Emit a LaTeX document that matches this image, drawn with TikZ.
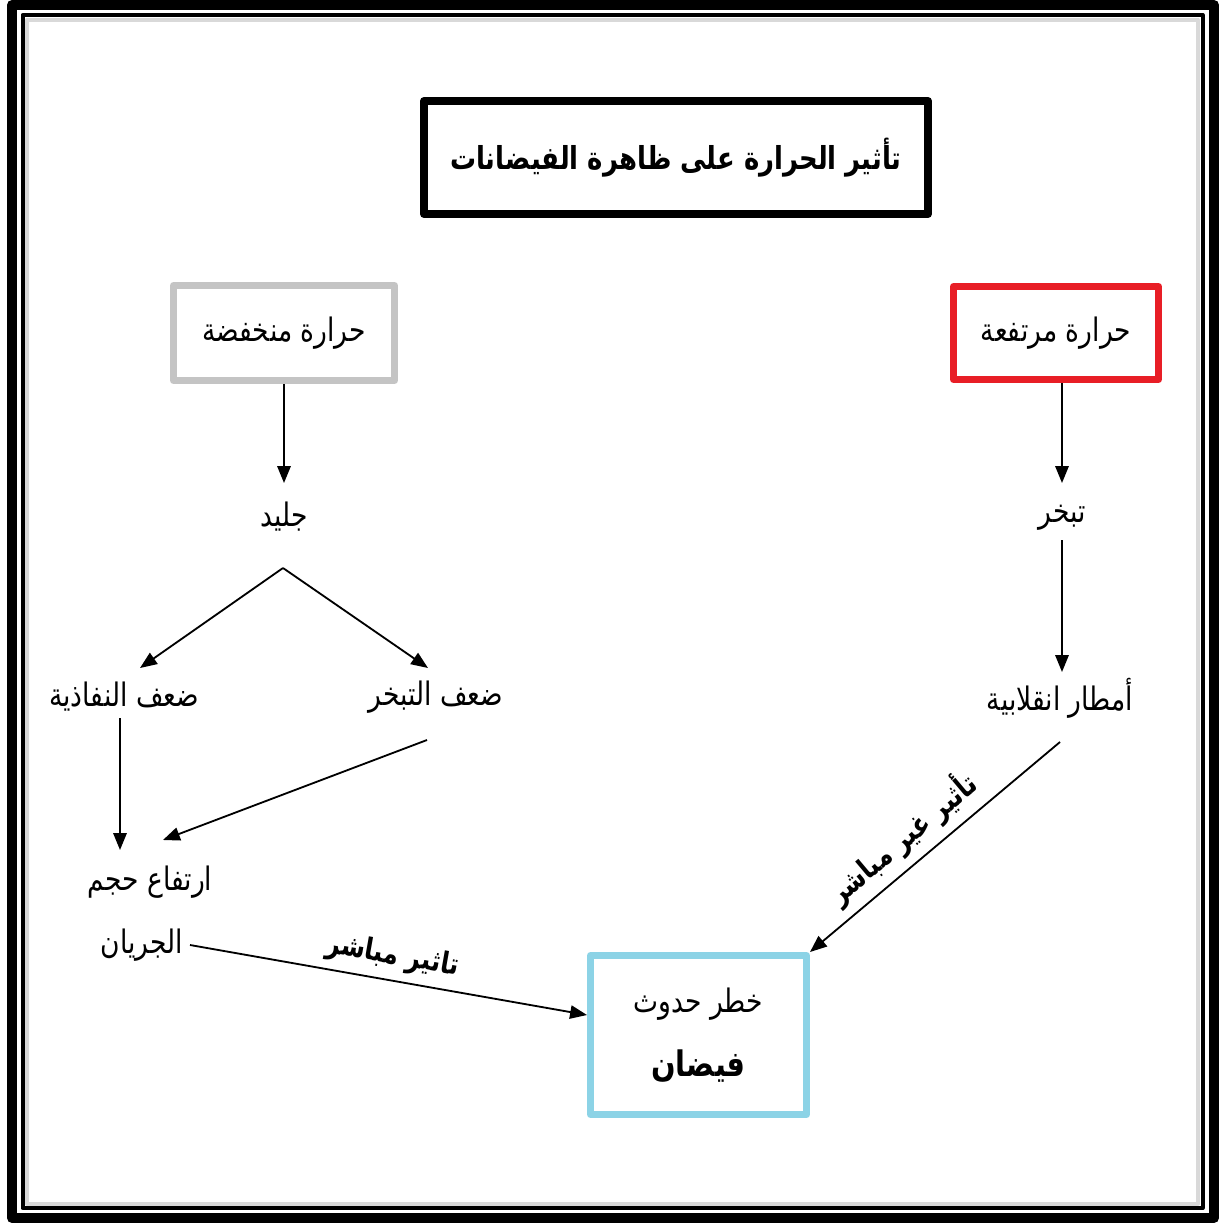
\documentclass[tikz,border=0pt]{standalone}
\usepackage{fontspec}
\usetikzlibrary{arrows.meta,calc}
\newfontfamily\arabicfont[Script=Arabic, FakeStretch=0.82]{DejaVu Sans}
\TeXXeTstate=1
\newcommand{\artxt}[1]{\beginR #1\endR}
\definecolor{hotred}{RGB}{232,30,38}
\definecolor{coldgray}{RGB}{196,196,196}
\definecolor{floodblue}{RGB}{140,211,230}
\def\px{0.025cm}
\tikzset{
  box/.style={draw, line width=7*\px, fill=white, inner sep=0pt, font=\arabicfont\fontsize{23}{28}\selectfont},
  lbl/.style={inner sep=2pt, font=\arabicfont\fontsize{23}{28}\selectfont},
  effect/.style={inner sep=6pt, font=\arabicfont\bfseries\fontsize{21}{24}\selectfont},
  link/.style={->, line width=1.3pt}
}
\begin{document}
\begin{tikzpicture}[x=\px, y=-\px, line join=round, >={Triangle[length=12pt,width=9.5pt]}]
\useasboundingbox (0,0) rectangle (1220,1223);
% double frame
\draw[line width=10*\px] (12,5) rectangle (1214,1218);
\draw[line width=4*\px] (22.5,15) rectangle (1202.5,1208);
\draw[black!15, line width=4*\px] (27,19.5) rectangle (1198,1203.5);
% boxes
\node[box, line width=8*\px, minimum width=504*\px, minimum height=113*\px,
  font=\arabicfont\bfseries\fontsize{22.5}{28}\selectfont] (title) at (676,157.5)
  {\artxt{تأثير الحرارة على ظاهرة الفيضانات}};
\node[box, draw=coldgray, minimum width=221*\px, minimum height=95*\px] (low) at (284,333) {\artxt{حرارة منخفضة}};
\node[box, draw=hotred, minimum width=205*\px, minimum height=93*\px] (high) at (1056,333) {\artxt{حرارة مرتفعة}};
\node[box, draw=floodblue, minimum width=216*\px, minimum height=159*\px, align=center] (flood) at (698.5,1035)
  {\artxt{خطر حدوث}\\[18pt]{\bfseries\fontsize{25}{28}\selectfont\artxt{فيضان}}};
% plain labels
\node[lbl] (ice) at (284,517) {\artxt{جليد}};
\node[lbl] (evap) at (1062,518) {\artxt{تبخر}};
\node[lbl] (rain) at (1060,698) {\artxt{أمطار انقلابية}};
\node[lbl] (weakperm) at (124,697) {\artxt{ضعف النفاذية}};
\node[lbl] (weakevap) at (436,697) {\artxt{ضعف التبخر}};
\node[lbl] (runoffA) at (150,882) {\artxt{ارتفاع حجم}};
\node[lbl] (runoffB) at (142,945) {\artxt{الجريان}};
\coordinate (split) at ($(ice)+(-1,51)$);
% arrows
\draw[link] (low.south) -- ($(ice)+(0,-34)$);
\draw[link] (high.south -| evap) -- ($(evap)+(0,-35)$);
\draw[link] ($(evap)+(0,22)$) -- ($(rain)+(2,-26)$);
\draw[link] (split) -- ($(weakperm)+(16,-29)$);
\draw[link] (split) -- ($(weakevap)+(-8,-29)$);
\draw[link] ($(weakperm)+(-4,21)$) -- ($(runoffA)+(-30,-32)$);
\draw[link] ($(weakevap)+(-9,43)$) -- ($(runoffA)+(13,-42)$);
\draw[link] ($(runoffB)+(48,0)$) -- node[effect, sloped, above, pos=0.5] (direct) {\artxt{تاثير مباشر}} ($(flood.west)+(0,-20)$);
\draw[link] ($(rain)+(0,44)$) -- node[effect, sloped, above, pos=0.56] (indirect) {\artxt{تأثير غير مباشر}} (flood.north east);
\end{tikzpicture}
\end{document}
